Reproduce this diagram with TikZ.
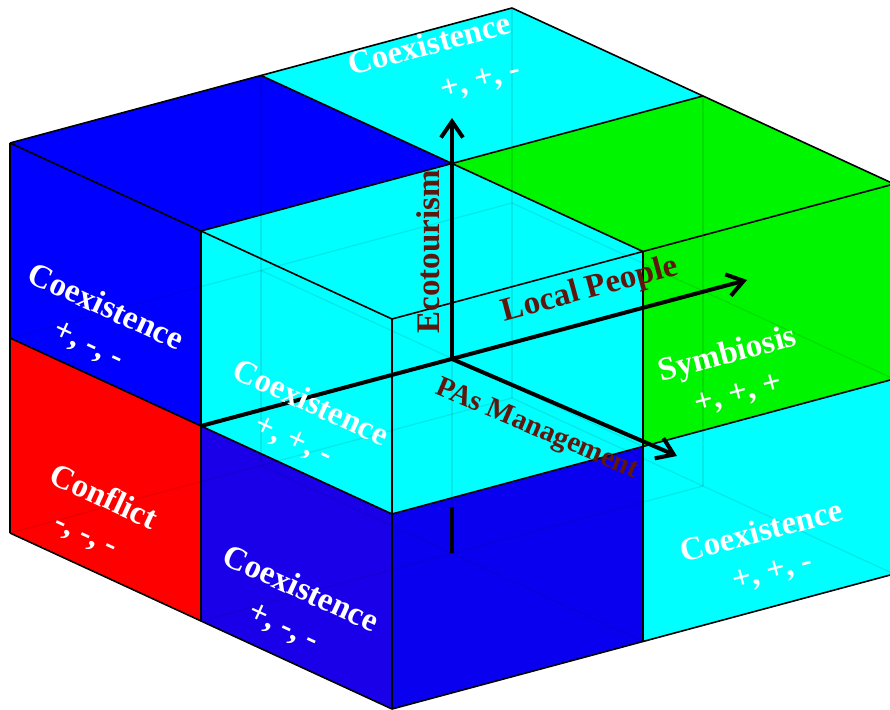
\documentclass[tikz,border=0pt]{standalone}
\usepackage{fontspec}
\setmainfont{Liberation Serif}
\usetikzlibrary{arrows.meta}
\definecolor{cyanc}{RGB}{0,255,255}
\definecolor{bluec}{RGB}{0,0,255}
\definecolor{blueb}{RGB}{25,0,232}
\definecolor{bluef}{RGB}{10,0,240}
\definecolor{greenc}{RGB}{0,245,0}
\definecolor{redc}{RGB}{255,0,0}
\definecolor{axlab}{RGB}{95,22,12}
\begin{document}
\begin{tikzpicture}[x=0.5pt,y=-0.5pt,
  edge/.style={draw=black,line width=0.8pt,line join=round},
  hidden/.style={draw=black,opacity=0.09,line width=0.6pt},
  axis/.style={line width=2pt,-{Straight Barb[length=8pt,width=11pt]}},
  celltext/.style={text=white,font=\fontsize{16.5}{20}\selectfont\bfseries,inner sep=0pt,align=center},
  axtext/.style={text=axlab,font=\fontsize{16.5}{20}\selectfont\bfseries,inner sep=0pt},
  alongA/.style={rotate=-24.7},
  alongB/.style={rotate=15}]
\useasboundingbox (0,0) rectangle (890,710);
\fill[white] (0,0) rectangle (890,710);
\clip (0,0) rectangle (890,710);
\foreach \i in {0,1,2}{\foreach \j in {0,1,2}{\foreach \k in {0,1,2}{
  \coordinate (p\i\j\k) at ({10+191*\i+251*\j},{143+88*\i-67.5*\j+195*(2-\k)});}}}
% top faces
\fill[bluec]  (p002)--(p012)--(p112)--(p102)--cycle;
\fill[cyanc]  (p012)--(p022)--(p122)--(p112)--cycle;
\fill[cyanc]  (p102)--(p112)--(p212)--(p202)--cycle;
\fill[greenc] (p112)--(p122)--(p222)--(p212)--cycle;
% left faces
\fill[bluec]  (p002)--(p102)--(p101)--(p001)--cycle;
\fill[cyanc]  (p102)--(p202)--(p201)--(p101)--cycle;
\fill[redc]   (p001)--(p101)--(p100)--(p000)--cycle;
\fill[blueb]  (p101)--(p201)--(p200)--(p100)--cycle;
% front faces
\fill[cyanc]  (p202)--(p212)--(p211)--(p201)--cycle;
\fill[greenc] (p212)--(p222)--(p221)--(p211)--cycle;
\fill[bluef]  (p201)--(p211)--(p210)--(p200)--cycle;
\fill[cyanc]  (p211)--(p221)--(p220)--(p210)--cycle;
% hidden edges
\foreach \j in {1,2}{\foreach \k in {0,1}{\draw[hidden] (p0\j\k)--(p2\j\k);}}
\foreach \i in {0,1}{\foreach \k in {0,1}{\draw[hidden] (p\i0\k)--(p\i2\k);}}
\foreach \i in {0,1}{\foreach \j in {1,2}{\draw[hidden] (p\i\j0)--(p\i\j2);}}
% visible edges
\foreach \j in {0,1,2}{\draw[edge] (p0\j2)--(p2\j2);}
\foreach \i in {0,1,2}{\draw[edge] (p\i02)--(p\i22);}
\foreach \k in {0,1}{\draw[edge] (p00\k)--(p20\k);}
\foreach \i in {0,1,2}{\draw[edge] (p\i00)--(p\i02);}
\foreach \k in {0,1}{\draw[edge] (p20\k)--(p22\k);}
\foreach \j in {1,2}{\draw[edge] (p2\j0)--(p2\j2);}
% axes
\coordinate (O) at (452,359);
\coordinate (ecoTip) at (452,118);
\coordinate (lpTip) at (747,280);
\coordinate (paTip) at (677,456);
\coordinate (ecoLow) at (452,507);
\draw[axis] (O)--(ecoTip);
\draw[axis] (p101)--(lpTip);
\draw[axis] (O)--(paTip);
\draw[line width=2pt] (ecoLow)--(p110);
% cell labels
\node[celltext,alongA] (t1) at (97,326) {Coexistence\\+, -, -};
\node[celltext,alongA] (t2) at (95,516) {Conflict\\-, -, -};
\node[celltext,alongA] (t3) at (302,422) {Coexistence\\+, +, -};
\node[celltext,alongA] (t4) at (292,608) {Coexistence\\+, -, -};
\node[celltext,alongB] (t5) at (436,68) {Coexistence\\[3pt]\hspace*{40pt}+, +, -};
\node[celltext,alongB] (t6) at (733,374) {Symbiosis\\+, +, +};
\node[celltext,alongB] (t7) at (767,552) {Coexistence\\+, +, -};
% axis labels
\node[axtext,rotate=90] (eco) at (428,252) {Ecotourism};
\node[axtext,alongB] (lp) at (590,290) {Local People};
\node[axtext,rotate=-23,font=\fontsize{14.5}{18}\selectfont\bfseries] (pa) at (537,430) {PAs Management};
\end{tikzpicture}
\end{document}
